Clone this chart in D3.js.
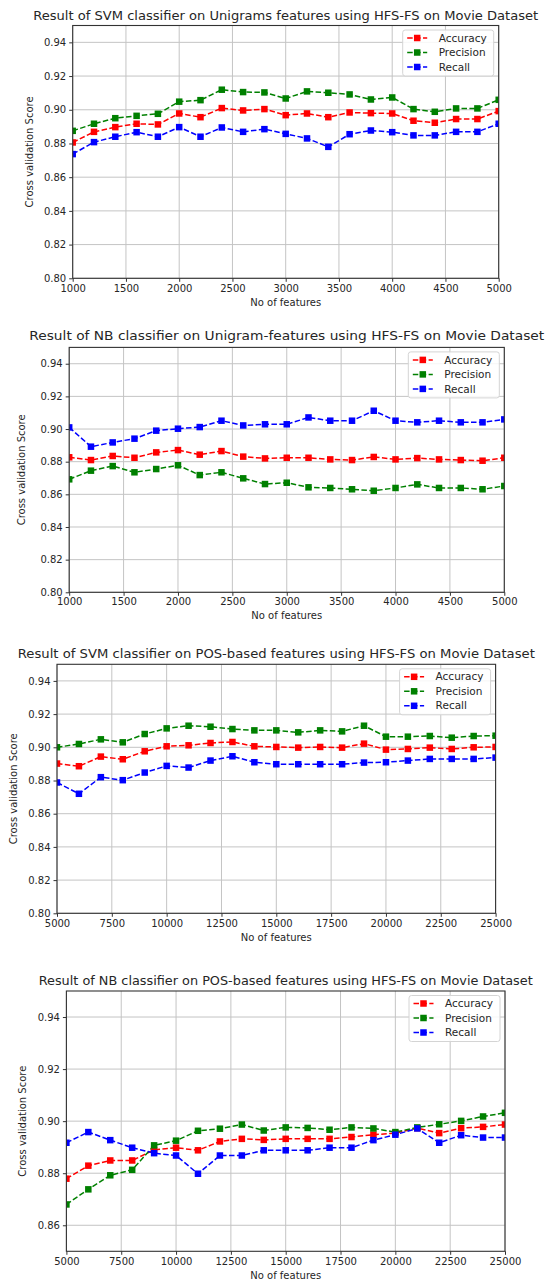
<!DOCTYPE html>
<html>
<head>
<meta charset="utf-8">
<script src="https://cdn.jsdelivr.net/npm/d3@7"></script>
<style>
  body { margin: 0; background: #fff; }
  text { font-family: "DejaVu Sans", sans-serif; fill: #262626; }
</style>
</head>
<body>
<svg id="chart" width="548" height="1281"></svg>
<script>
// series names + colours
const seriesNames = ["Accuracy", "Precision", "Recall"];
const seriesColors = ["#ff0000", "#008000", "#0000ff"];

// x values (number of features)
const xUnigram = [1000, 1200, 1400, 1600, 1800, 2000, 2200, 2400, 2600, 2800, 3000,
                  3200, 3400, 3600, 3800, 4000, 4200, 4400, 4600, 4800, 5000];
const xPos = [5000, 6000, 7000, 8000, 9000, 10000, 11000, 12000, 13000, 14000, 15000,
              16000, 17000, 18000, 19000, 20000, 21000, 22000, 23000, 24000, 25000];

// tick labels
const unigramTicks = [1000, 1500, 2000, 2500, 3000, 3500, 4000, 4500, 5000];
const posTicks = [5000, 7500, 10000, 12500, 15000, 17500, 20000, 22500, 25000];
const scoreTicks = [0.80, 0.82, 0.84, 0.86, 0.88, 0.90, 0.92, 0.94];
const nbPosScoreTicks = [0.86, 0.88, 0.90, 0.92, 0.94];

// SVM, unigrams
const svmUniAccuracy = [0.8806, 0.8869, 0.8897, 0.8917, 0.8913, 0.8978, 0.8956, 0.9010, 0.8996, 0.9004, 0.8968,
                        0.8978, 0.8956, 0.8984, 0.8980, 0.8978, 0.8935, 0.8923, 0.8945, 0.8945, 0.8992];
const svmUniPrecision = [0.8875, 0.8917, 0.8950, 0.8964, 0.8976, 0.9048, 0.9057, 0.9119, 0.9105, 0.9103, 0.9067,
                         0.9109, 0.9101, 0.9091, 0.9061, 0.9073, 0.9004, 0.8988, 0.9008, 0.9008, 0.9059];
const svmUniRecall = [0.8737, 0.8808, 0.8840, 0.8867, 0.8840, 0.8897, 0.8840, 0.8895, 0.8869, 0.8885, 0.8857,
                      0.8830, 0.8780, 0.8855, 0.8877, 0.8867, 0.8848, 0.8848, 0.8869, 0.8869, 0.8917];

// NB, unigrams
const nbUniAccuracy = [0.8827, 0.8810, 0.8835, 0.8824, 0.8857, 0.8871, 0.8843, 0.8865, 0.8831, 0.8820, 0.8824,
                       0.8824, 0.8814, 0.8810, 0.8829, 0.8814, 0.8822, 0.8814, 0.8810, 0.8806, 0.8824];
const nbUniPrecision = [0.8692, 0.8745, 0.8773, 0.8735, 0.8755, 0.8778, 0.8718, 0.8735, 0.8698, 0.8663, 0.8671,
                        0.8643, 0.8639, 0.8631, 0.8622, 0.8639, 0.8661, 0.8639, 0.8639, 0.8631, 0.8651];
const nbUniRecall = [0.9010, 0.8892, 0.8918, 0.8941, 0.8990, 0.9002, 0.9012, 0.9051, 0.9022, 0.9029, 0.9029,
                     0.9071, 0.9051, 0.9051, 0.9112, 0.9051, 0.9041, 0.9051, 0.9041, 0.9041, 0.9059];

// SVM, POS-based
const svmPosAccuracy = [0.8902, 0.8886, 0.8944, 0.8928, 0.8976, 0.9006, 0.9012, 0.9026, 0.9032, 0.9006, 0.9002,
                        0.8998, 0.9002, 0.8998, 0.9022, 0.8986, 0.8990, 0.8998, 0.8990, 0.9000, 0.9002];
const svmPosPrecision = [0.9000, 0.9020, 0.9048, 0.9030, 0.9080, 0.9114, 0.9130, 0.9124, 0.9110, 0.9102, 0.9102,
                         0.9090, 0.9102, 0.9096, 0.9130, 0.9064, 0.9064, 0.9068, 0.9058, 0.9068, 0.9070];
const svmPosRecall = [0.8788, 0.8720, 0.8820, 0.8802, 0.8848, 0.8888, 0.8878, 0.8920, 0.8946, 0.8910, 0.8898,
                      0.8898, 0.8898, 0.8898, 0.8908, 0.8910, 0.8920, 0.8930, 0.8930, 0.8930, 0.8938];

// NB, POS-based
const nbPosAccuracy = [0.8779, 0.8829, 0.8849, 0.8849, 0.8890, 0.8898, 0.8888, 0.8922, 0.8932, 0.8928, 0.8932,
                       0.8932, 0.8932, 0.8939, 0.8948, 0.8954, 0.8973, 0.8954, 0.8973, 0.8978, 0.8987];
const nbPosPrecision = [0.8680, 0.8738, 0.8792, 0.8813, 0.8907, 0.8925, 0.8963, 0.8971, 0.8987, 0.8964, 0.8976,
                        0.8974, 0.8967, 0.8976, 0.8972, 0.8958, 0.8976, 0.8988, 0.9001, 0.9018, 0.9032];
const nbPosRecall = [0.8917, 0.8958, 0.8927, 0.8898, 0.8877, 0.8868, 0.8798, 0.8868, 0.8868, 0.8888, 0.8888,
                     0.8888, 0.8898, 0.8898, 0.8927, 0.8948, 0.8972, 0.8917, 0.8946, 0.8937, 0.8937];

// layout of the four panels
const panels = [
  { title: "Result of SVM classifier on Unigrams features using HFS-FS on Movie Dataset",
    titleY: 19.5, titleW: 505, xs: xUnigram, xTicks: unigramTicks, yDomain: [0.80, 0.95], yTicks: scoreTicks,
    left: 72.7, right: 498.7, top: 25.5, bottom: 278.3, ylabX: 29.7, tickY: 291.7, labY: 305.5,
    series: [svmUniAccuracy, svmUniPrecision, svmUniRecall] },
  { title: "Result of NB classifier on Unigram-features using HFS-FS on Movie Dataset",
    titleY: 340, titleW: 515, xs: xUnigram, xTicks: unigramTicks, yDomain: [0.80, 0.95], yTicks: scoreTicks,
    left: 69.2, right: 504.3, top: 347.4, bottom: 592.3, ylabX: 21, tickY: 605.5, labY: 619,
    series: [nbUniAccuracy, nbUniPrecision, nbUniRecall] },
  { title: "Result of SVM classifier on POS-based features using HFS-FS on Movie Dataset",
    titleY: 658.3, titleW: 517, xs: xPos, xTicks: posTicks, yDomain: [0.80, 0.95], yTicks: scoreTicks,
    left: 57, right: 495.6, top: 664.3, bottom: 913.3, ylabX: 13.3, tickY: 927.2, labY: 940.5,
    series: [svmPosAccuracy, svmPosPrecision, svmPosRecall] },
  { title: "Result of NB classifier on POS-based features using HFS-FS on Movie Dataset",
    titleY: 985, titleW: 494, xs: xPos, xTicks: posTicks, yDomain: [0.85, 0.95], yTicks: nbPosScoreTicks,
    left: 66.4, right: 505, top: 991, bottom: 1251.3, ylabX: 22.7, tickY: 1265.2, labY: 1279.2,
    series: [nbPosAccuracy, nbPosPrecision, nbPosRecall] }
];

const svg = d3.select("#chart");
const ms = 6.5; // marker size

panels.forEach((p, pi) => {
  const x = d3.scaleLinear().domain(d3.extent(p.xTicks)).range([p.left, p.right]);
  const y = d3.scaleLinear().domain(p.yDomain).range([p.bottom, p.top]);
  const g = svg.append("g");

  // grid
  g.selectAll(".gx").data(p.xTicks).enter().append("line")
    .attr("x1", d => x(d)).attr("x2", d => x(d))
    .attr("y1", p.top).attr("y2", p.bottom)
    .attr("stroke", "#c4c4c4").attr("stroke-width", 1);
  g.selectAll(".gy").data(p.yTicks).enter().append("line")
    .attr("x1", p.left).attr("x2", p.right)
    .attr("y1", d => y(d)).attr("y2", d => y(d))
    .attr("stroke", "#c4c4c4").attr("stroke-width", 1);

  // axes
  const xAxis = d3.axisBottom(x).tickValues(p.xTicks).tickFormat(d3.format("d")).tickSize(3.5).tickPadding(2);
  const yAxis = d3.axisLeft(y).tickValues(p.yTicks).tickFormat(d3.format(".2f")).tickSize(3.5).tickPadding(3);
  const gx = g.append("g").attr("transform", `translate(0,${p.bottom})`).call(xAxis);
  const gy = g.append("g").attr("transform", `translate(${p.left},0)`).call(yAxis);
  [gx, gy].forEach(a => {
    a.select(".domain").remove();
    a.selectAll("line").attr("stroke", "#333");
    a.selectAll("text").attr("font-size", 10).style("fill", "#262626")
      .attr("font-family", "DejaVu Sans, sans-serif");
  });
  gx.selectAll("text").attr("dy", null).attr("y", p.tickY - p.bottom);

  // lines + markers, clipped to the plot area
  const clipId = "clip" + pi;
  svg.append("clipPath").attr("id", clipId).append("rect")
    .attr("x", p.left).attr("y", p.top).attr("width", p.right - p.left).attr("height", p.bottom - p.top);
  const plot = g.append("g").attr("clip-path", `url(#${clipId})`);
  const line = d3.line().x((d, i) => x(p.xs[i])).y(d => y(d));
  p.series.forEach((s, si) => {
    plot.append("path").datum(s).attr("d", line)
      .attr("fill", "none").attr("stroke", seriesColors[si]).attr("stroke-width", 1.5)
      .attr("stroke-dasharray", "5.5,2.4");
  });
  p.series.forEach((s, si) => {
    plot.selectAll(null).data(s).enter().append("rect")
      .attr("x", (d, i) => x(p.xs[i]) - ms / 2).attr("y", d => y(d) - ms / 2)
      .attr("width", ms).attr("height", ms).attr("fill", seriesColors[si]);
  });

  // frame
  g.append("rect").attr("x", p.left).attr("y", p.top)
    .attr("width", p.right - p.left).attr("height", p.bottom - p.top)
    .attr("fill", "none").attr("stroke", "#333").attr("stroke-width", 1.1);

  // title + axis labels
  g.append("text").attr("x", (p.left + p.right) / 2).attr("y", p.titleY)
    .attr("text-anchor", "middle").attr("font-size", 12)
    .attr("textLength", p.titleW).attr("lengthAdjust", "spacingAndGlyphs").text(p.title);
  g.append("text").attr("x", (p.left + p.right) / 2).attr("y", p.labY)
    .attr("text-anchor", "middle").attr("font-size", 10).text("No of features");
  g.append("text").attr("transform", `translate(${p.ylabX + 3.5},${(p.top + p.bottom) / 2}) rotate(-90)`)
    .attr("text-anchor", "middle").attr("font-size", 10).text("Cross validation Score");

  // legend
  const lw = 91, lh = 46;
  const lx = p.right - 5 - lw, ly = p.top + 4.5;
  const lg = g.append("g").attr("transform", `translate(${lx},${ly})`);
  lg.append("rect").attr("width", lw).attr("height", lh).attr("rx", 2.5)
    .attr("fill", "#fff").attr("fill-opacity", 0.85).attr("stroke", "#d4d4d4");
  seriesNames.forEach((n, i) => {
    const cy = 8 + i * 14.5;
    lg.append("line").attr("x1", 4.5).attr("x2", 24.5).attr("y1", cy).attr("y2", cy)
      .attr("stroke", seriesColors[i]).attr("stroke-width", 1.5).attr("stroke-dasharray", "5.5,2.4");
    lg.append("rect").attr("x", 14.5 - ms / 2).attr("y", cy - ms / 2).attr("width", ms).attr("height", ms)
      .attr("fill", seriesColors[i]);
    lg.append("text").attr("x", 36).attr("y", cy).attr("dy", "0.35em")
      .attr("font-size", 10.5).text(n);
  });
});
</script>
</body>
</html>
